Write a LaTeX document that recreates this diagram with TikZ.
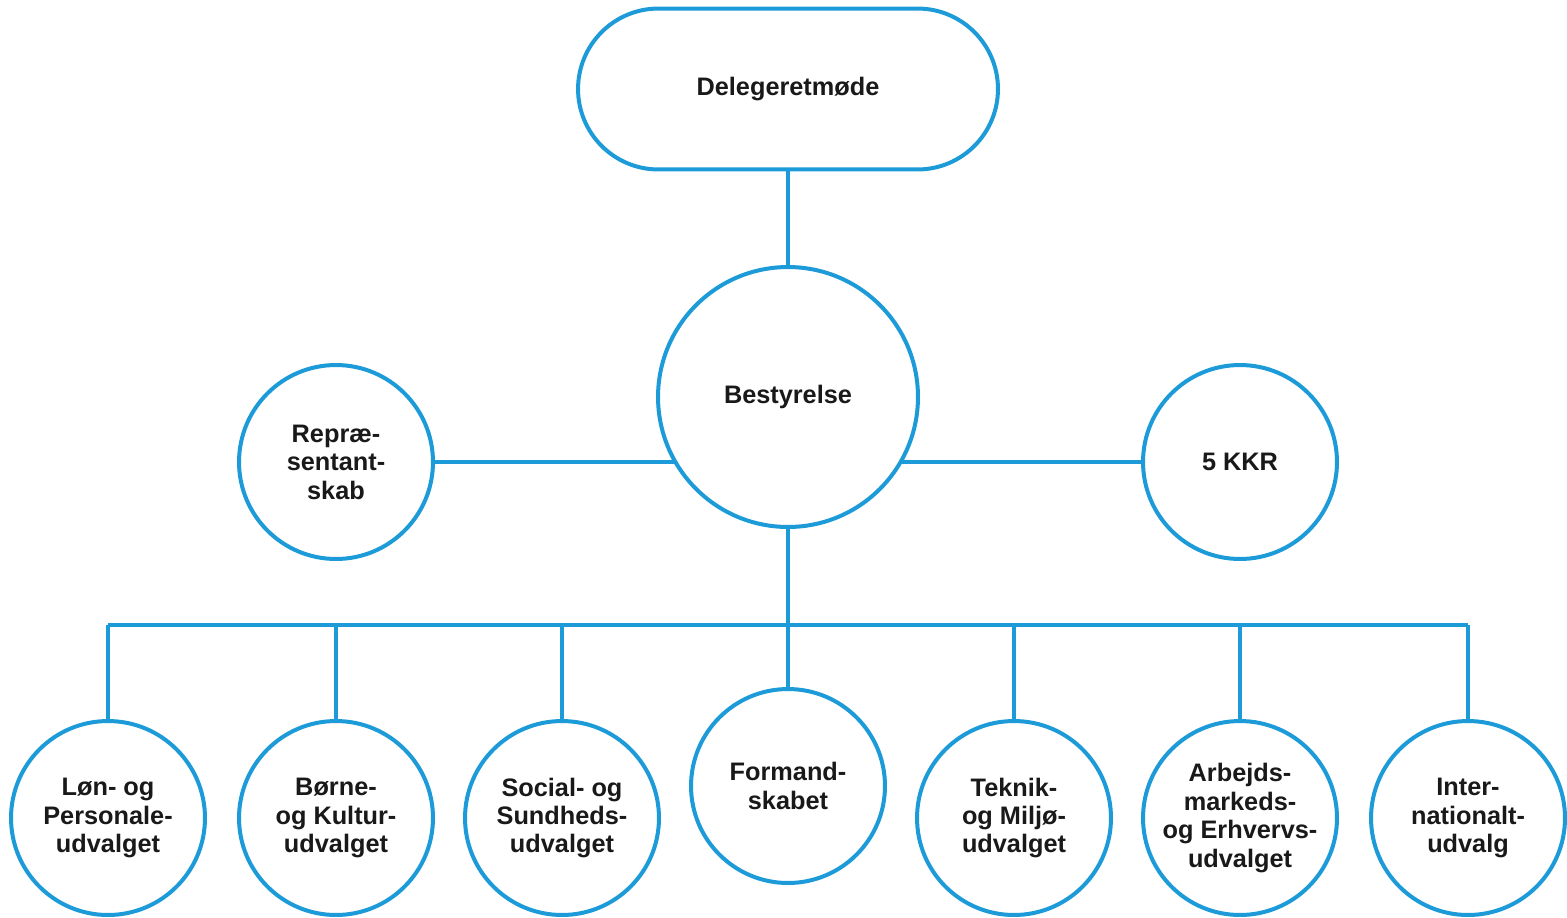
\documentclass[tikz,border=0pt]{standalone}
\usepackage{fontspec}
\setmainfont{Liberation Sans}
\usetikzlibrary{shapes.misc}
\definecolor{kblue}{RGB}{28,155,216}
\tikzset{
  conn/.style={draw=kblue, line width=0.075cm},
  unit/.style={circle, draw=kblue, line width=0.08cm, fill=white, minimum size=3.88cm, inner sep=0pt, outer sep=0pt, align=center, font=\fontsize{14.4}{16.2}\selectfont\bfseries, text=black!90},
  bigunit/.style={unit, minimum size=5.2cm},
  topunit/.style={rounded rectangle, draw=kblue, line width=0.08cm, fill=white, minimum width=8.4cm, minimum height=3.22cm, inner sep=0pt, outer sep=0pt, font=\fontsize{14.4}{16.2}\selectfont\bfseries, text=black!90}
}
\begin{document}
\begin{tikzpicture}[x=0.02cm, y=-0.02cm]
\useasboundingbox (0,0) rectangle (1567,917);
\node[topunit] (dm) at (788,89) {Delegeretmøde};
\node[bigunit] (best) at (788,397) {Bestyrelse};
\node[unit] (rep) at (336,462) {Repræ-\\sentant-\\skab};
\node[unit] (kkr) at (1240,462) {5 KKR};
\coordinate (bus) at (788,625);
\coordinate (busl) at (108,625);
\coordinate (busr) at (1468,625);
\node[unit] (lon) at (108,818) {Løn- og\\Personale-\\udvalget};
\node[unit] (bor) at (336,818) {Børne-\\og Kultur-\\udvalget};
\node[unit] (soc) at (562,818) {Social- og\\Sundheds-\\udvalget};
\node[unit] (for) at (788,786) {Formand-\\skabet};
\node[unit] (tek) at (1014,818) {Teknik-\\og Miljø-\\udvalget};
\node[unit] (arb) at (1240,818) {Arbejds-\\markeds-\\og Erhvervs-\\udvalget};
\node[unit] (int) at (1468,818) {Inter-\\nationalt-\\udvalg};
\draw[conn] (dm.south) -- (best.north);
\draw[conn] (best.south) -- (bus);
\draw[conn] (busl) -- (busr);
\draw[conn] (rep.east) -- (best.210);
\draw[conn] (kkr.west) -- (best.330);
\foreach \n in {lon,bor,soc,for,tek,arb,int}{
  \draw[conn] (\n.north) -- (\n.north |- bus);
}
\end{tikzpicture}
\end{document}
